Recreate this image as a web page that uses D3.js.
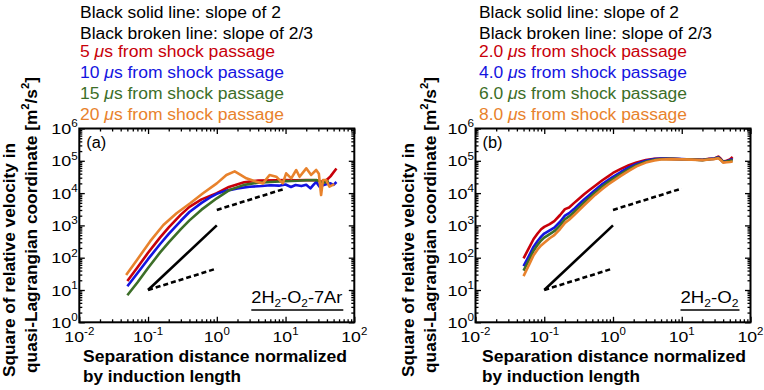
<!DOCTYPE html>
<html lang="en">
<head>
<meta charset="UTF-8">
<title>Relative velocity vs separation</title>
<script src="https://cdn.jsdelivr.net/npm/d3@7"></script>
<style>
  * { margin: 0; padding: 0; }
  body { background: #fff; }
  svg { display: block; font-family: "Liberation Sans", Arial, Helvetica, sans-serif; }
</style>
</head>
<body>
<svg></svg>
<script>
// ---- data ----
const colors = ['#c8000a', '#1414e0', '#3c6e28', '#e8822c']
const notes = ['Black solid line: slope of 2', 'Black broken line: slope of 2/3']
const timesA = ['5', '10', '15', '20']
const timesB = ['2.0', '4.0', '6.0', '8.0']

// panel (a) 2H2-O2-7Ar
const redAx = [0.05, 0.07, 0.1, 0.15, 0.2, 0.3, 0.4, 0.6, 1, 1.5, 2.5, 4, 7, 10, 14, 20, 28, 35, 40, 45, 55]
const redAy = [19, 50, 142, 427, 870, 2150, 3750, 6400, 9900, 15500, 21800, 24300, 25000, 25500, 25000, 25500, 25000, 22000, 26000, 33000, 58000]
const blueAx = [0.05, 0.07, 0.1, 0.15, 0.2, 0.3, 0.4, 0.6, 0.8, 1, 1.3, 2, 3, 4.5, 6, 8, 10, 12, 14, 17, 20, 23, 26, 28, 31, 35, 40, 45, 50, 55]
const blueAy = [13, 33, 90, 265, 545, 1390, 2600, 4970, 7400, 9500, 11500, 14000, 15800, 16500, 17500, 17000, 18500, 15500, 17800, 16500, 18000, 14000, 19000, 22000, 16000, 17500, 19000, 20000, 18000, 22000]
const greenAx = [0.05, 0.07, 0.1, 0.15, 0.2, 0.3, 0.4, 0.6, 1, 1.5, 2.5, 4, 7, 10, 15, 20, 28, 35, 43]
const greenAy = [6.9, 17, 48, 146, 300, 770, 1430, 3070, 6900, 12200, 18000, 21000, 22500, 23500, 24000, 25000, 25500, 21000, 23000]
const orangeAx = [0.048, 0.069, 0.107, 0.167, 0.26, 0.41, 0.63, 1.0, 1.38, 1.82, 2.04, 2.69, 3.76, 4.69, 5.86, 7.33, 9.1, 10.2, 12.1, 14.3, 16, 20, 23.6, 27.9, 30.5, 32.9, 35, 38.9, 43.5, 51.3]
const orangeAy = [29, 85, 320, 1030, 2370, 4830, 9860, 20000, 36500, 47000, 40700, 28700, 22500, 20000, 36500, 32200, 20000, 41000, 28700, 51900, 32000, 58500, 36500, 51900, 40000, 8700, 25500, 25500, 15800, 19000]

// panel (b) 2H2-O2, shared x
const xB = [0.05, 0.06, 0.07, 0.08, 0.09, 0.1, 0.12, 0.14, 0.17, 0.2, 0.23, 0.27, 0.32, 0.38, 0.45, 0.55, 0.7, 0.85, 1, 1.3, 1.7, 2.2, 3, 4, 5, 7, 10, 14, 20, 25, 30, 34, 37, 40, 45, 50, 55]
const redB = [96, 200, 380, 560, 760, 900, 1100, 1350, 2100, 3200, 3600, 4900, 6700, 9200, 12200, 17000, 25000, 33000, 42000, 56000, 73000, 89000, 105000, 115000, 118000, 115000, 112000, 112000, 108000, 115000, 118000, 135000, 115000, 95000, 100000, 110000, 130000]
const blueB = [55, 115, 220, 330, 450, 560, 700, 850, 1300, 2000, 2400, 3200, 4500, 6300, 8600, 12500, 19000, 25500, 32000, 45000, 62000, 80000, 100000, 113000, 117000, 117000, 113000, 110000, 106000, 113000, 117000, 128000, 110000, 93000, 97000, 105000, 115000]
const greenB = [40, 85, 165, 250, 340, 420, 540, 660, 1000, 1550, 1900, 2550, 3600, 5100, 7100, 10500, 16000, 22000, 27500, 39000, 55000, 73000, 94000, 108000, 114000, 115000, 112000, 110000, 105000, 112000, 116000, 125000, 108000, 92000, 95000, 100000, 105000]
const orangeB = [27, 60, 120, 180, 240, 290, 400, 500, 770, 1200, 1500, 2050, 2950, 4200, 5900, 8800, 13500, 18500, 23500, 34000, 49000, 67000, 88000, 103000, 110000, 113000, 111000, 109000, 104000, 110000, 113000, 120000, 105000, 88000, 90000, 92000, 95000]

// black guide lines
const solidX = [0.1, 1], solidY = [10, 1000]
const dashLoX = [0.1, 1], dashLoY = [10, 46.4]
const dashHiX = [1, 10], dashHiY = [3000, 13900]

const xDecades = [0.01, 0.1, 1, 10, 100]
const xExp = ['-2', '-1', '0', '1', '2']
const yDecades = [1, 10, 100, 1e3, 1e4, 1e5, 1e6]
const yExp = ['0', '1', '2', '3', '4', '5', '6']

// ---- drawing ----
const svg = d3.select('svg').attr('width', 764).attr('height', 390)

// text with sub/superscripts, parts = [[string, kind]]
function rich(text, parts, size) {
  let shift = 0
  parts.forEach(([s, k]) => {
    const t = text.append('tspan').text(s)
    const target = k === 'sup' ? -0.42 * size : k === 'sub' ? 0.22 * size : 0
    if (target !== shift) { t.attr('dy', target - shift); shift = target }
    if (k === 'sup' || k === 'sub') t.attr('font-size', size * 0.65)
    if (k === 'it') t.attr('font-style', 'italic')
  })
  return text
}

// stretch a text to the width seen in the figure
function fit(text, w) {
  return text.attr('textLength', w).attr('lengthAdjust', 'spacingAndGlyphs')
}

function minors(decades) {
  const out = []
  decades.slice(0, -1).forEach(d => { for (let m = 2; m < 10; m++) out.push(d * m) })
  return out
}

function panel(p) {
  const g = svg.append('g')
  const x = d3.scaleLog().domain([0.01, 100]).range([p.left, p.left + 275])
  const y = d3.scaleLog().domain([1, 1e6]).range([322.3, 128.5])
  const [x0, x1] = x.range(), [y0, y1] = y.range()

  // ticks on all four sides, pointing in
  const axes = [
    [d3.axisBottom(x), `translate(0,${y0})`, xDecades],
    [d3.axisTop(x), `translate(0,${y1})`, xDecades],
    [d3.axisLeft(y), `translate(${x0},0)`, yDecades],
    [d3.axisRight(y), `translate(${x1},0)`, yDecades]
  ]
  axes.forEach(([ax, tr, dec]) => {
    [[dec, 5.5], [minors(dec), 3]].forEach(([vals, len]) => {
      const a = g.append('g').attr('transform', tr)
        .call(ax.tickValues(vals).tickSize(-len).tickFormat(''))
      a.select('.domain').remove()
      a.selectAll('line').attr('stroke', '#000').attr('stroke-width', 1.3)
    })
  })

  g.append('rect').attr('x', x0).attr('y', y1).attr('width', x1 - x0).attr('height', y0 - y1)
    .attr('fill', 'none').attr('stroke', '#000').attr('stroke-width', 2)

  // tick labels
  xDecades.forEach((v, i) => {
    const t = g.append('text').attr('x', x(v)).attr('y', 341.7)
      .attr('text-anchor', 'middle').attr('font-size', 15.5)
    fit(rich(t, [['10', ''], [xExp[i], 'sup']], 15.5), xExp[i][0] === '-' ? 30 : 26)
  })
  yDecades.forEach((v, i) => {
    const t = g.append('text').attr('x', x0 - 1.5).attr('y', y(v) + 5.5)
      .attr('text-anchor', 'end').attr('font-size', 15.5)
    fit(rich(t, [['10', ''], [yExp[i], 'sup']], 15.5), 26.5)
  })

  // curves
  const line = d3.line().x(d => x(d[0])).y(d => y(d[1]))
  p.series.forEach(([xs, ys], i) => {
    g.append('path').datum(d3.zip(xs, ys)).attr('d', line)
      .attr('fill', 'none').attr('stroke', colors[i]).attr('stroke-width', 2.6)
      .attr('stroke-linejoin', 'round')
  })

  // guide lines
  ;[[solidX, solidY, null], [dashLoX, dashLoY, '5,3'], [dashHiX, dashHiY, '5,3']].forEach(([xs, ys, dash]) => {
    g.append('path').datum(d3.zip(xs, ys)).attr('d', line)
      .attr('fill', 'none').attr('stroke', '#000').attr('stroke-width', 2.6)
      .attr('stroke-dasharray', dash)
  })

  // panel letter
  fit(g.append('text').attr('x', x0 + 7).attr('y', 148).attr('font-size', 16).text(p.letter), 20)

  // mixture label, underlined
  const m = rich(g.append('text').attr('x', x1 - 12 - p.mixW).attr('y', 303)
    .attr('font-size', 16), p.mix, 16)
  fit(m, p.mixW)
  g.append('line').attr('x1', x1 - 12 - p.mixW).attr('x2', x1 - 11).attr('y1', 310).attr('y2', 310)
    .attr('stroke', '#000').attr('stroke-width', 1.3)

  // legend text
  const lx = p.tx + 80
  ;[18.3, 39].forEach((yy, i) => {
    fit(g.append('text').attr('x', lx).attr('y', yy).attr('font-size', 16).text(notes[i]), p.noteW[i])
  })
  ;[56.7, 77.7, 99, 120].forEach((yy, i) => {
    const t = g.append('text').attr('x', lx).attr('y', yy).attr('font-size', 16)
      .attr('fill', colors[i])
    rich(t, [[p.times[i] + ' ', ''], ['\u03bc', 'it'], ['s from shock passage', '']], 16)
    fit(t, p.timeW[i])
  })

  // axis titles
  ;[['Separation distance normalized', 362.3, 264], ['by induction length', 382.3, 158]].forEach(([s, yy, w]) => {
    fit(g.append('text').attr('x', p.tx + 83).attr('y', yy).attr('font-size', 17)
      .attr('font-weight', 'bold').text(s), w)
  })
  fit(g.append('text').attr('transform', `translate(${p.tx + 15},377) rotate(-90)`)
    .attr('font-size', 17).attr('font-weight', 'bold').text('Square of relative velocity in'), 234)
  fit(rich(g.append('text').attr('transform', `translate(${p.tx + 36.5},373) rotate(-90)`)
    .attr('font-size', 17).attr('font-weight', 'bold'),
    [['quasi-Lagrangian coordinate [m', ''], ['2', 'sup'], ['/s', ''], ['2', 'sup'], [']', '']], 17), 296)
}

panel({
  left: 79.3, tx: 0, letter: '(a)', times: timesA,
  noteW: [201, 233], timeW: [195, 204, 204, 204],
  mix: [['2H', ''], ['2', 'sub'], ['-O', ''], ['2', 'sub'], ['-7Ar', '']], mixW: 91,
  series: [[redAx, redAy], [blueAx, blueAy], [greenAx, greenAy], [orangeAx, orangeAy]]
})
panel({
  left: 475.5, tx: 399, letter: '(b)', times: timesB,
  noteW: [200, 233], timeW: [208, 208, 208, 208],
  mix: [['2H', ''], ['2', 'sub'], ['-O', ''], ['2', 'sub']], mixW: 58,
  series: [[xB, redB], [xB, blueB], [xB, greenB], [xB, orangeB]]
})
</script>
</body>
</html>
